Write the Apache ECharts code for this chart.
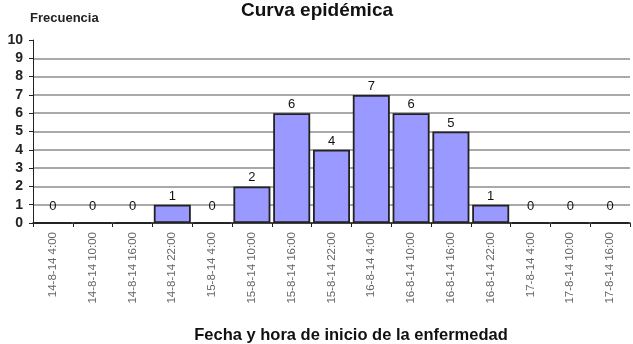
<!DOCTYPE html>
<html>
<head>
<meta charset="utf-8">
<script src="https://cdn.jsdelivr.net/npm/echarts@6/dist/echarts.min.js"></script>
<style>
  html, body { margin: 0; padding: 0; background: #fff; }
  #chart { width: 633px; height: 344px; }
</style>
</head>
<body>
<div id="chart"></div>
<script>
const categories = [
    "14-8-14 4:00", "14-8-14 10:00", "14-8-14 16:00", "14-8-14 22:00",
    "15-8-14 4:00", "15-8-14 10:00", "15-8-14 16:00", "15-8-14 22:00",
    "16-8-14 4:00", "16-8-14 10:00", "16-8-14 16:00", "16-8-14 22:00",
    "17-8-14 4:00", "17-8-14 10:00", "17-8-14 16:00"
]
const frecuencia = [0, 0, 0, 1, 0, 2, 6, 4, 7, 6, 5, 1, 0, 0, 0]
const yTicks = [0, 1, 2, 3, 4, 5, 6, 7, 8, 9, 10]

const font = "'Liberation Sans', Arial, sans-serif"

let myChart = echarts.init(document.getElementById("chart"))

// gridline at the top (10) is not drawn in the original
let splitColors = yTicks.map(t => t === 10 ? "rgba(0,0,0,0)" : "#8c8c8c")

let option = {
    animation: false,
    backgroundColor: "#fff",
    graphic: [
        {
            type: "text",
            x: 317,
            y: 11,
            style: {
                text: "Curva epidémica", font: "bold 19px " + font, fill: "#111",
                textAlign: "center", textVerticalAlign: "middle"
            }
        },
        {
            type: "text",
            x: 30,
            y: 18,
            style: {
                text: "Frecuencia", font: "bold 13px " + font, fill: "#222",
                textAlign: "left", textVerticalAlign: "middle"
            }
        },
        {
            type: "text",
            x: 351,
            y: 335,
            style: {
                text: "Fecha y hora de inicio de la enfermedad", font: "bold 16.5px " + font, fill: "#111",
                textAlign: "center", textVerticalAlign: "middle"
            }
        }
    ],
    grid: {
        left: 33,
        right: 3,
        top: 40,
        bottom: 121,
        containLabel: false
    },
    xAxis: {
        type: "category",
        data: categories,
        axisLine: { lineStyle: { color: "#222", width: 1.5 } },
        axisTick: { show: true, length: 4, alignWithLabel: false, lineStyle: { color: "#222" } },
        axisLabel: {
            rotate: 90,
            interval: 0,
            margin: 9,
            fontSize: 11.5,
            fontFamily: font,
            color: "#666"
        }
    },
    yAxis: {
        type: "value",
        min: 0,
        max: 10,
        interval: 1,
        axisLine: { show: true, lineStyle: { color: "#222", width: 1 } },
        axisTick: { show: true, length: 4, lineStyle: { color: "#222" } },
        axisLabel: {
            fontSize: 14,
            fontWeight: "bold",
            fontFamily: font,
            color: "#222",
            margin: 10
        },
        splitLine: { show: true, lineStyle: { color: splitColors, width: 1.5 } }
    },
    series: [
        {
            type: "bar",
            barCategoryGap: "7%",
            data: frecuencia.map(v => ({
                value: v,
                label: v === 0 ? { offset: [0, -7] } : {}
            })),
            itemStyle: {
                color: "#9999ff",
                borderColor: "#222",
                borderWidth: 1.8
            },
            label: {
                show: true,
                position: "top",
                distance: 2,
                fontSize: 13,
                fontFamily: font,
                color: "#111"
            }
        }
    ]
}
myChart.setOption(option)
</script>
</body>
</html>
